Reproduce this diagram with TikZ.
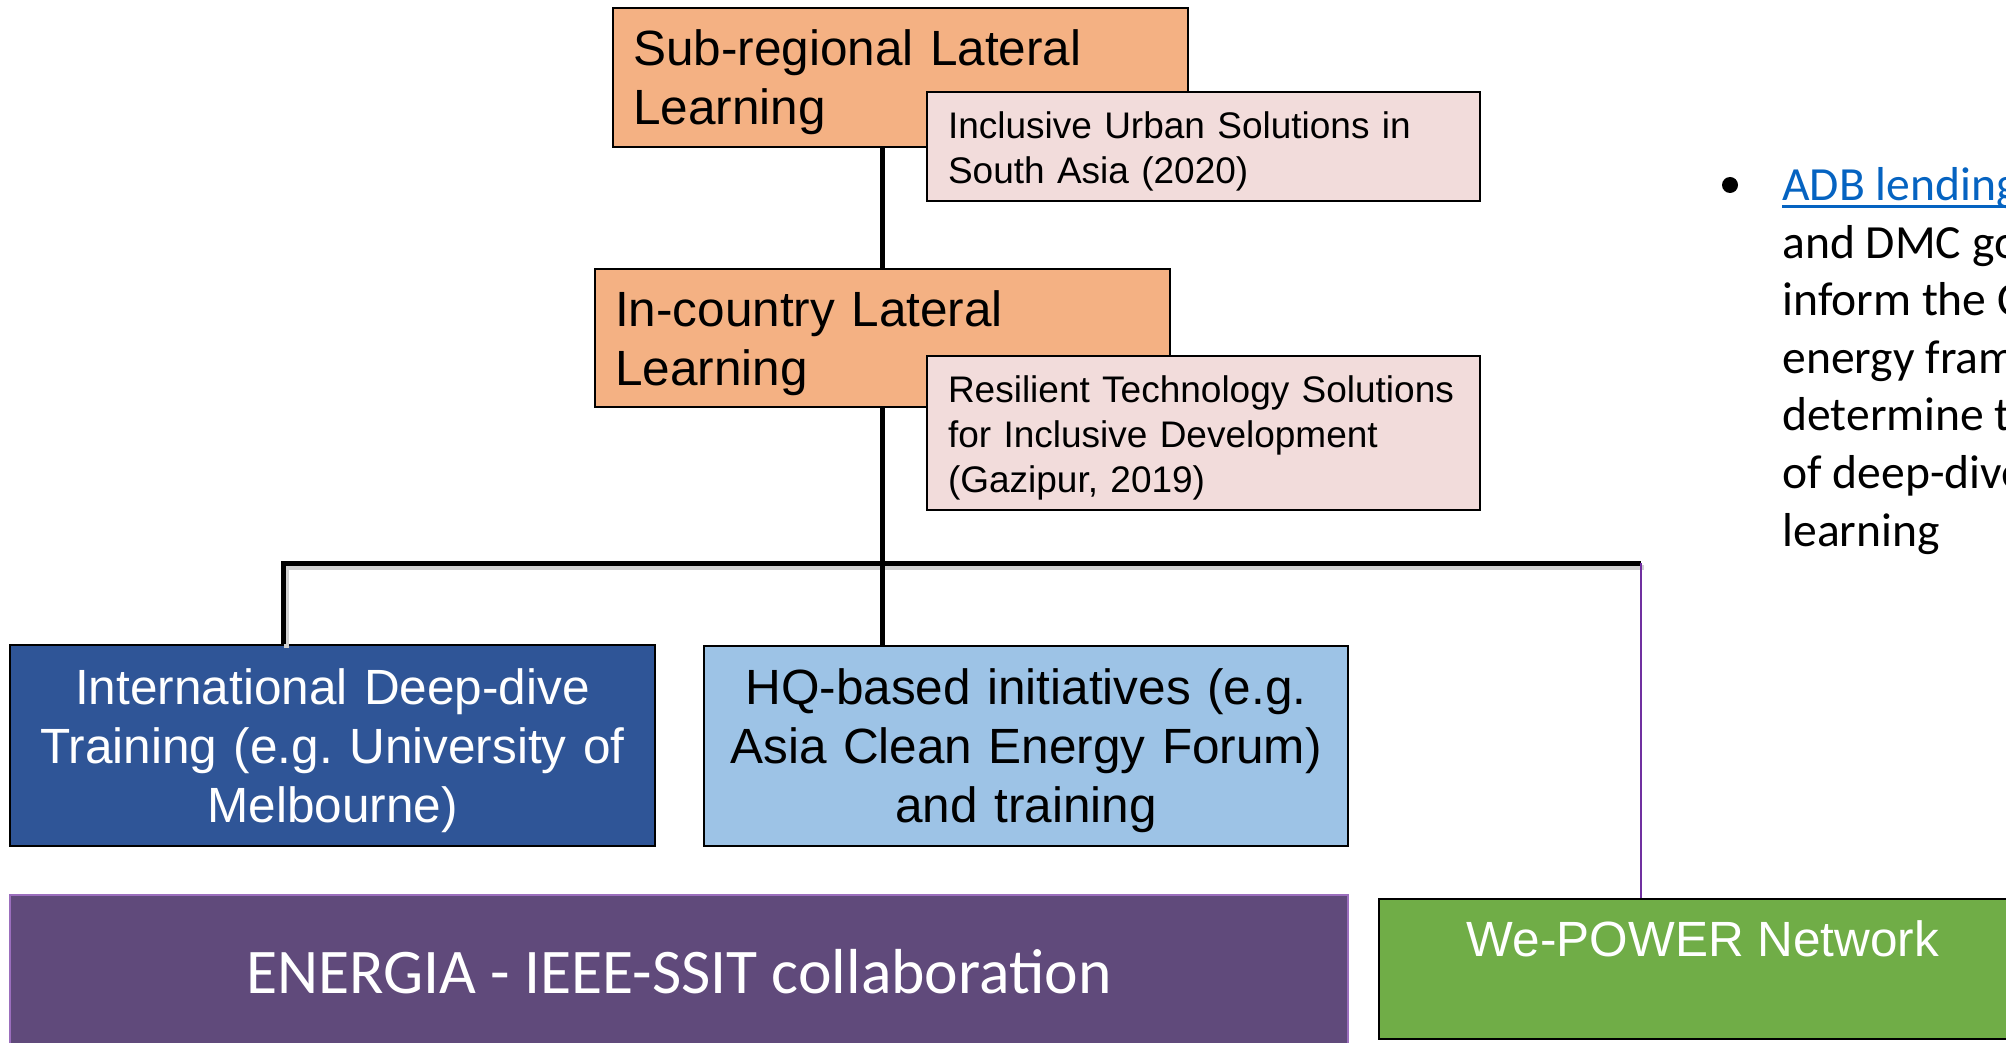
\documentclass[tikz,border=0pt]{standalone}
\usepackage{fontspec}
\setmainfont{Liberation Sans}
\newfontfamily\calibri{Carlito}
\definecolor{orangefill}{HTML}{F4B183}
\definecolor{pinkfill}{HTML}{F2DCDB}
\definecolor{dkblue}{HTML}{2F5597}
\definecolor{ltblue}{HTML}{9DC3E6}
\definecolor{purplefill}{HTML}{604A7B}
\definecolor{purpleline}{HTML}{7030A0}
\definecolor{greenfill}{HTML}{70AD47}
\definecolor{linkblue}{HTML}{0563C1}
\newcommand\myul[1]{\setbox0\hbox{#1}\rlap{\rule[-3.6pt]{\wd0}{1.3pt}}#1}
\frenchspacing
\begin{document}
\begin{tikzpicture}[x=0.5pt,y=-0.5pt,
  box/.style={draw=black, line width=1pt, inner sep=0pt},
  txt/.style={inner sep=0pt, yshift=-2.5pt},
  bigtxt/.style={font=\fontsize{24.75pt}{29.5pt}\selectfont},
  smalltxt/.style={font=\fontsize{18.5pt}{22.5pt}\selectfont},
  conn/.style={line width=2.5pt, black},
  shadowline/.style={line width=2.5pt, black!18}]
\useasboundingbox (0,0) rectangle (2006,1043);
\clip (0,0) rectangle (2006,1043);

\coordinate (barL) at (283,563);
\coordinate (barR) at (1641,563);

% upper boxes
\node[box, fill=orangefill, minimum width=287.5pt, minimum height=69.5pt] (sub) at (900.5,77.5) {};
\node[txt, bigtxt, align=left, text width=267.5pt] (subt) at (sub.center) {Sub-regional Lateral\\Learning};
\node[box, fill=pinkfill, minimum width=276.5pt, minimum height=54.5pt] (inc) at (1203.5,146.5) {};
\node[txt, smalltxt, align=left, text width=255.5pt] (inct) at (inc.center) {Inclusive Urban Solutions in\\South Asia (2020)};
\node[box, fill=orangefill, minimum width=287.5pt, minimum height=69pt] (ic) at (882.5,338) {};
\node[txt, bigtxt, align=left, text width=267.5pt] (ict) at (ic.center) {In-country Lateral\\Learning};
\node[box, fill=pinkfill, minimum width=276.5pt, minimum height=77pt] (res) at (1203.5,433) {};
\node[txt, smalltxt, align=left, text width=255.5pt] (rest) at (res.center) {Resilient Technology Solutions\\for Inclusive Development\\(Gazipur, 2019)};

% lower boxes
\node[box, fill=dkblue, minimum width=322.5pt, minimum height=100.5pt] (intl) at (332.5,745.5) {};
\node[txt, bigtxt, text=white, align=center, text width=310pt] (intlt) at (intl.center) {International Deep-dive\\Training (e.g. University of\\Melbourne)};
\node[box, fill=ltblue, minimum width=322pt, minimum height=100pt] (hq) at (1026,746) {};
\node[txt, bigtxt, align=center, text width=310pt] (hqt) at (hq.center) {HQ-based initiatives (e.g.\\Asia Clean Energy Forum)\\and training};

\node[draw=purpleline!70, line width=1pt, fill=purplefill, text=white, font=\calibri\fontsize{31.8pt}{38pt}\selectfont, minimum width=669pt, minimum height=77pt] (en) at (679,972) {ENERGIA - IEEE-SSIT collaboration};

\node[box, fill=greenfill, minimum width=324pt, minimum height=70pt] (wp) at (1703,969) {};
\node[text=white, bigtxt] (wpt) at (1703,939) {We-POWER Network};

% connectors
\draw[shadowline] ([shift={(3,4)}]barL |- intl.north) -- ([shift={(3,4)}]barL) -- ([shift={(3,4)}]barR);
\draw[conn] (ic.north) -- (ic.north |- sub.south);
\draw[conn] (ic.south) -- (ic.south |- hq.north);
\draw[conn] (barL |- intl.north) -- (barL) -- (barR);
\draw[purpleline, line width=0.75pt] (barR) -- (barR |- wp.north);

% bullet text
\node[circle, fill=black, inner sep=0pt, minimum size=8pt] (bul) at (1730,185) {};
\node[anchor=north west, inner sep=0pt, align=left, font=\calibri\fontsize{23.8pt}{28.8pt}\selectfont] (btxt) at (1782,167) {\textcolor{linkblue}{\myul{ADB lending}}\\and DMC government\\inform the CPS\\energy framework\\determine the\\of deep-dive\\learning};
\end{tikzpicture}
\end{document}
